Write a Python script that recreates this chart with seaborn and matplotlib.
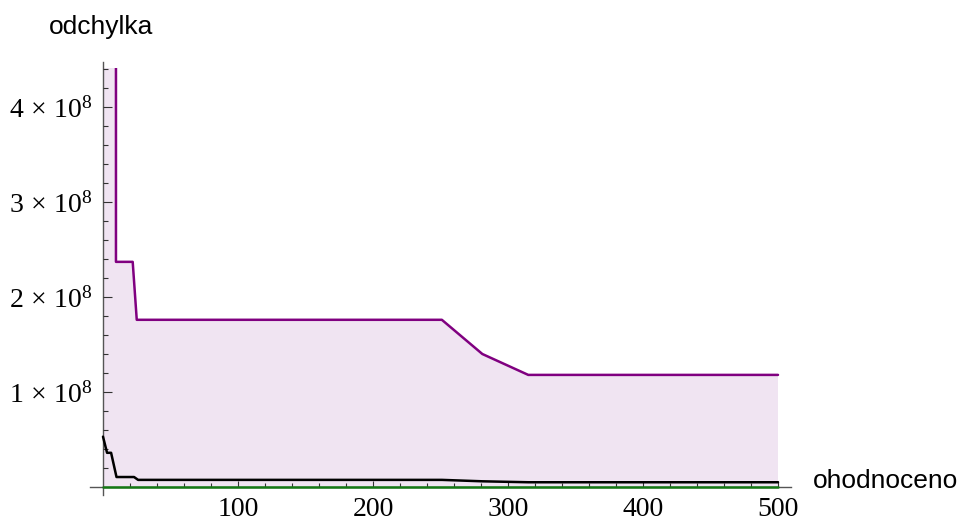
import numpy as np
import pandas as pd
import matplotlib
matplotlib.use("Agg")
import matplotlib.pyplot as plt
import seaborn as sns
from matplotlib.ticker import FixedLocator, FuncFormatter
from matplotlib.patches import Rectangle

# ---- data ----
upper_x = [0, 9.6, 9.6, 22, 25, 251, 281, 315, 500]
upper_y = [6.0e8, 6.0e8, 2.37e8, 2.37e8, 1.76e8, 1.76e8, 1.40e8, 1.18e8, 1.18e8]

best_x = [0, 3, 6, 10, 23, 26, 251, 281, 315, 500]
best_y = [0.53e8, 0.36e8, 0.36e8, 0.105e8, 0.105e8, 0.075e8, 0.075e8, 0.06e8, 0.05e8, 0.05e8]

opt_x = [0, 500]
opt_y = [0.0, 0.0]

x_major = [100, 200, 300, 400, 500]
y_major = [1e8, 2e8, 3e8, 4e8]
y_plot_max = 4.41e8

sns.set_style("white")
plt.rcParams["mathtext.fontset"] = "custom"
plt.rcParams["mathtext.rm"] = "Liberation Serif"
plt.rcParams["mathtext.it"] = "Liberation Serif:italic"
plt.rcParams["text.color"] = "black"
plt.rcParams["xtick.color"] = "black"
plt.rcParams["ytick.color"] = "black"
plt.rcParams["axes.axisbelow"] = False

fig = plt.figure(figsize=(9.62, 5.27), dpi=100)
W, H = 962, 527
x0p, x1p = 89.5, 791.5
y0p, y1p = 494.6, 62.35
ax = fig.add_axes([x0p / W, (H - y0p) / H, (x1p - x0p) / W, (y0p - y1p) / H])
ax.set_facecolor("none")
ax.set_axisbelow(False)

clip = Rectangle((-10, -1e9), 520, 1e9 + y_plot_max, transform=ax.transData,
                 facecolor="none", edgecolor="none")

fill = ax.fill_between(upper_x, 0, upper_y, color="#f0e4f2", lw=0, zorder=1)
fill.set_clip_path(clip)

df_u = pd.DataFrame({"x": upper_x, "y": upper_y})
df_b = pd.DataFrame({"x": best_x, "y": best_y})
df_o = pd.DataFrame({"x": opt_x, "y": opt_y})
sns.lineplot(data=df_u, x="x", y="y", ax=ax, color="#800080", lw=1.8, sort=False,
             estimator=None, zorder=3)
sns.lineplot(data=df_o, x="x", y="y", ax=ax, color="#147814", lw=1.8, sort=False,
             estimator=None, zorder=3)
sns.lineplot(data=df_b, x="x", y="y", ax=ax, color="black", lw=1.8, sort=False,
             estimator=None, zorder=4)
for ln in ax.lines:
    ln.set_clip_path(clip)

ax.set_xlim(-10, 510)
ax.set_ylim(-0.08e8, 4.47e8)

for s in ["top", "right"]:
    ax.spines[s].set_visible(False)
for s in ["left", "bottom"]:
    ax.spines[s].set_position(("data", 0))
    ax.spines[s].set_color("#555555")
    ax.spines[s].set_linewidth(1.0)
    ax.spines[s].set_zorder(2)

ax.xaxis.set_major_locator(FixedLocator(x_major))
ax.xaxis.set_minor_locator(FixedLocator([v for v in range(20, 501, 20) if v % 100]))
ax.yaxis.set_major_locator(FixedLocator(y_major))
ax.yaxis.set_minor_locator(FixedLocator([v * 1e7 for v in range(2, 45, 2) if v % 10]))

ax.yaxis.set_major_formatter(FuncFormatter(lambda v, p: r"$%d\,\times\,10^{8}$" % round(v / 1e8)))
ax.xaxis.set_major_formatter(FuncFormatter(lambda v, p: "%d" % v))

ax.tick_params(which="both", bottom=True, left=True, top=False, right=False)
ax.tick_params(axis="x", which="major", direction="in", length=4.3, width=0.8,
               color="#333333", pad=7, labelsize=20)
ax.tick_params(axis="x", which="minor", direction="in", length=2.9, width=0.8,
               color="#333333")
ax.tick_params(axis="y", which="major", direction="in", length=6.2, width=0.8,
               color="#333333", pad=8, labelsize=20)
ax.tick_params(axis="y", which="minor", direction="in", length=3.6, width=0.8,
               color="#333333")
for lab in ax.get_xticklabels():
    lab.set_fontfamily("Liberation Serif")
    lab.set_color("black")
for lab in ax.get_yticklabels():
    lab.set_color("black")
ax.set_xlabel("")
ax.set_ylabel("")

fig.text(101 / W, 1 - 27 / H, "odchylka", family="Liberation Sans", fontsize=19,
         ha="center", va="center", color="black")
fig.text(813 / W, 1 - 481 / H, "ohodnoceno", family="Liberation Sans", fontsize=19,
         ha="left", va="center", color="black")

fig.savefig("out.png", dpi=100)
